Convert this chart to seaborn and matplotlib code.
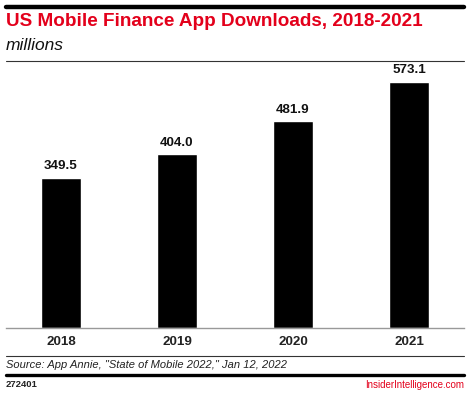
import matplotlib
matplotlib.use("Agg")
import matplotlib.pyplot as plt
import seaborn as sns
import pandas as pd
from matplotlib.lines import Line2D

years = ["2018", "2019", "2020", "2021"]
downloads = [349.5, 404.0, 481.9, 573.1]
title = "US Mobile Finance App Downloads, 2018-2021"
subtitle = "millions"
source = "Source: App Annie, \"State of Mobile 2022,\" Jan 12, 2022"
chart_id = "272401"
brand = "InsiderIntelligence.com"

df = pd.DataFrame({"year": years, "downloads": downloads})

sns.set_theme(style="white")
plt.rcParams['font.family'] = ['Liberation Sans', 'DejaVu Sans']

W, H = 470, 395
fig = plt.figure(figsize=(W / 100, H / 100), dpi=100)

def fx(px):
    return px / W

def fy(py):
    return 1 - py / H

ax_left, ax_right, ax_top, ax_bottom = 6, 464, 62, 327.7
ax = fig.add_axes([fx(ax_left), fy(ax_bottom), fx(ax_right - ax_left), (ax_bottom - ax_top) / H])
sns.barplot(data=df, x="year", y="downloads", color="black", width=0.345, ax=ax, saturation=1)
ax.set_xlim(-0.474, 3.474)
ax.set_ylim(0, 573.1 * (ax_bottom - ax_top) / (ax_bottom - 82))
for s in ["top", "left", "right"]:
    ax.spines[s].set_visible(False)
ax.spines["bottom"].set_color("#999999")
ax.spines["bottom"].set_linewidth(1.0)
ax.set_yticks([])
ax.set_xlabel("")
ax.set_ylabel("")
ax.tick_params(axis="x", length=0, pad=6, labelsize=9.6)
for lbl in ax.get_xticklabels():
    lbl.set_fontweight("bold")
    lbl.set_color("#222222")
for c in ax.containers:
    ax.bar_label(c, labels=[f"{v:.1f}" for v in downloads], padding=4,
                 fontsize=9.6, fontweight="bold", color="#111111")

# lines
fig.add_artist(Line2D([fx(6), fx(464)], [fy(7), fy(7)], color="black", lw=3.2))
fig.add_artist(Line2D([fx(6), fx(464)], [fy(60.5), fy(60.5)], color="#333333", lw=0.8))
fig.add_artist(Line2D([fx(6), fx(464)], [fy(356), fy(356)], color="#333333", lw=0.8))
fig.add_artist(Line2D([fx(6), fx(464)], [fy(375), fy(375)], color="black", lw=2.4))

fig.text(fx(6), fy(22), title, color="#e3001b", fontsize=13.6, fontweight="bold", va="center", ha="left")
fig.text(fx(6), fy(45), subtitle, color="#111111", fontsize=12.5, style="italic", va="center", ha="left")
fig.text(fx(6), fy(365.5), source, color="#222222", fontsize=8.05, style="italic", va="center", ha="left")
fig.text(fx(6), fy(384.5), chart_id, color="#222222", fontsize=6.8, fontweight="bold", va="center", ha="left")
fig.text(fx(464), fy(384.5), brand, color="#e3001b", fontsize=7.0, va="center", ha="right")

fig.savefig("out.png", dpi=100)
